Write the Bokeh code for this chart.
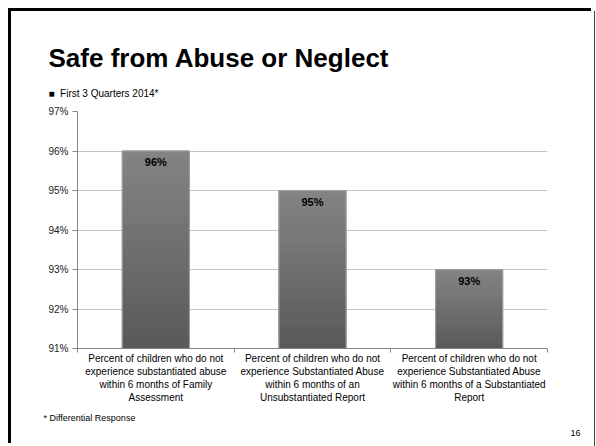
from bokeh.plotting import figure
from bokeh.models import (FixedTicker, Range1d, ColumnDataSource, PrintfTickFormatter, Title)
from bokeh.core.properties import value
from bokeh.embed import file_html
from bokeh.resources import INLINE

categories = [
    "Percent of children who do not\nexperience substantiated abuse\nwithin 6 months of Family\nAssessment",
    "Percent of children who do not\nexperience Substantiated Abuse\nwithin 6 months of an\nUnsubstantiated Report",
    "Percent of children who do not\nexperience Substantiated Abuse\nwithin 6 months of a Substantiated\nReport",
]
values = [96, 95, 93]
value_labels = ["96%", "95%", "93%"]
y_ticks = [91, 92, 93, 94, 95, 96, 97]
series_name = "First 3 Quarters 2014*"
title_text = "Safe from Abuse or Neglect"
footnote = "* Differential Response"
page_no = "16"

FONT = "Liberation Sans"
W, H = 583, 435
ML, MR, MT, MB = 66, 47, 100, 98

p = figure(width=W, height=H, output_backend="svg", toolbar_location=None,
           x_range=Range1d(0, 3), y_range=Range1d(91, 97),
           min_border_left=ML, min_border_right=MR, min_border_top=MT,
           min_border_bottom=MB)
p.styles = {"margin-left": "11px", "margin-top": "11px",
            "box-shadow": "-3px -3px 0 0 #000, 1px 0 0 0 #444"}
p.outline_line_color = None
p.background_fill_color = "white"
p.border_fill_color = "white"

# gradient bars built from stacked slices
n = 40
bl, br, bb, bt, bc = [], [], [], [], []
base = y_ticks[0]
half = 0.214
for i, v in enumerate(values):
    xc = i + 0.5
    for k in range(n):
        y0 = base + (v - base) * k / n
        y1 = base + (v - base) * (k + 1) / n
        t = k / (n - 1)
        g = int(0x5a + (0x84 - 0x5a) * t)
        bl.append(xc - half); br.append(xc + half)
        bb.append(y0); bt.append(y1)
        bc.append("#%02x%02x%02x" % (g, g, g))
p.quad(left=bl, right=br, bottom=bb, top=bt, fill_color=bc, line_color=bc, line_width=1)
p.quad(left=[i + 0.5 - half for i in range(3)], right=[i + 0.5 + half for i in range(3)],
       bottom=[base] * 3, top=values, fill_color=None, line_color="#a0a0a0", line_width=1)

src = ColumnDataSource(dict(x=[i + 0.5 for i in range(3)], y=values, t=value_labels))
p.text(x="x", y="y", text="t", source=src, text_align="center", text_baseline="top",
       y_offset=5, text_font=value(FONT), text_font_size="11px", text_font_style="bold",
       text_color="#000")

# axes
p.yaxis.ticker = FixedTicker(ticks=y_ticks)
p.yaxis.formatter = PrintfTickFormatter(format="%d%%")
p.yaxis.axis_line_color = "#868686"
p.yaxis.major_tick_line_color = "#868686"
p.yaxis.major_tick_out = 5
p.yaxis.major_tick_in = 0
p.yaxis.minor_tick_line_color = None
p.yaxis.major_label_text_font = FONT
p.yaxis.major_label_text_font_size = "10px"
p.yaxis.major_label_text_color = "#222"
p.yaxis.major_label_standoff = 4

p.xaxis.ticker = FixedTicker(ticks=[0.5, 1.5, 2.5], minor_ticks=[0, 1, 2, 3])
p.xaxis.major_label_overrides = {0.5: categories[0], 1.5: categories[1], 2.5: categories[2]}
p.xaxis.axis_line_color = "#868686"
p.xaxis.major_tick_line_color = None
p.xaxis.major_tick_out = 0
p.xaxis.major_tick_in = 0
p.xaxis.minor_tick_line_color = "#868686"
p.xaxis.minor_tick_out = 4
p.xaxis.minor_tick_in = 0
p.xaxis.major_label_text_font = FONT
p.xaxis.major_label_text_font_size = "10px"
p.xaxis.major_label_text_color = "#000"
p.xaxis.major_label_standoff = 0

p.xgrid.grid_line_color = None
p.ygrid.ticker = FixedTicker(ticks=y_ticks)
p.ygrid.grid_line_color = "#c4c4c4"

# series caption (closest to frame), then slide title
p.add_layout(Title(text="\u25a0\u00a0\u00a0" + series_name, align="left", offset=-29,
                   text_font=FONT, text_font_size="10px", text_font_style="normal",
                   text_color="#000", standoff=25), "above")
p.add_layout(Title(text=title_text, align="left", offset=-29, text_font=FONT,
                   text_font_size="26px", text_font_style="bold", text_color="#000",
                   standoff=1), "above")

# footnote and page number
p.add_layout(Title(text=footnote, align="left", offset=-34, text_font=FONT,
                   text_font_size="9px", text_font_style="normal", text_color="#000",
                   standoff=9), "below")
p.add_layout(Title(text=page_no, align="right", offset=-33, text_font=FONT,
                   text_font_size="9px", text_font_style="normal", text_color="#000",
                   standoff=0), "below")

open("out.html", "w").write(file_html(p, INLINE))
